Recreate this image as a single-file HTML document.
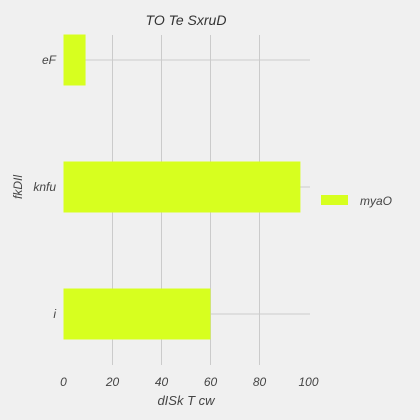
<!DOCTYPE html>
<html><head><meta charset="utf-8"><style>
html,body{margin:0;padding:0;background:#f0f0f0;}
svg{display:block;font-family:"Liberation Sans",sans-serif;font-style:italic;}
</style></head><body>
<svg id="chart" width="420" height="420">
<rect width="420" height="420" fill="#f0f0f0"/>
<text x="186" y="25" text-anchor="middle" font-size="14" fill="#333">TO Te SxruD</text>
<text x="186" y="405" text-anchor="middle" font-size="13" fill="#444">dISk T cw</text>
<text x="22" y="187" text-anchor="middle" font-size="12" fill="#444" transform="rotate(-90 22 187)">fkDIl</text>
<g id="grid"></g><g id="bars"></g><g id="labels"></g>
<rect x="321" y="195" width="27" height="10" fill="#d7ff1f"/>
<text x="360" y="205" font-size="12" fill="#444">myaO</text>
</svg>
<script>
const categories = ["eF","knfu","i"];
const values = [9, 96.7, 60];
const xTicks = [0,20,40,60,80,100];
const ns="http://www.w3.org/2000/svg";
const x0=63.5, x1=308.5, yTop=35, yBottom=365;
const xs=v=>x0+(v/100)*(x1-x0);
const yc=i=>60+i*127;
const grid=document.getElementById('grid'),bars=document.getElementById('bars'),labels=document.getElementById('labels');
function mk(tag,attrs,parent){const e=document.createElementNS(ns,tag);for(const k in attrs)e.setAttribute(k,attrs[k]);parent.appendChild(e);return e;}
xTicks.forEach(t=>{
  if(t>0&&t<100){const l=mk('line',{x1:xs(t),x2:xs(t),y1:yTop,y2:yBottom,stroke:'#cbcbcb','stroke-width':1},grid);
  
  }
  const tx=mk('text',{x:xs(t),y:386,'text-anchor':'middle','font-size':12,fill:'#444'},labels);
  tx.textContent=t;
  
  
});
categories.forEach((c,i)=>{
  const l=mk('line',{x1:x0,x2:310,y1:yc(i),y2:yc(i),stroke:'#cbcbcb','stroke-width':1},grid);
  
  
  const r=mk('rect',{x:x0,y:yc(i)-25.5,width:xs(values[i])-x0,height:51,fill:'#d7ff1f'},bars);
  
  
  const tx=mk('text',{x:56,y:yc(i)+4,'text-anchor':'end','font-size':12,fill:'#444'},labels);
  tx.textContent=c;
  
  
});
</script>
</body></html>
